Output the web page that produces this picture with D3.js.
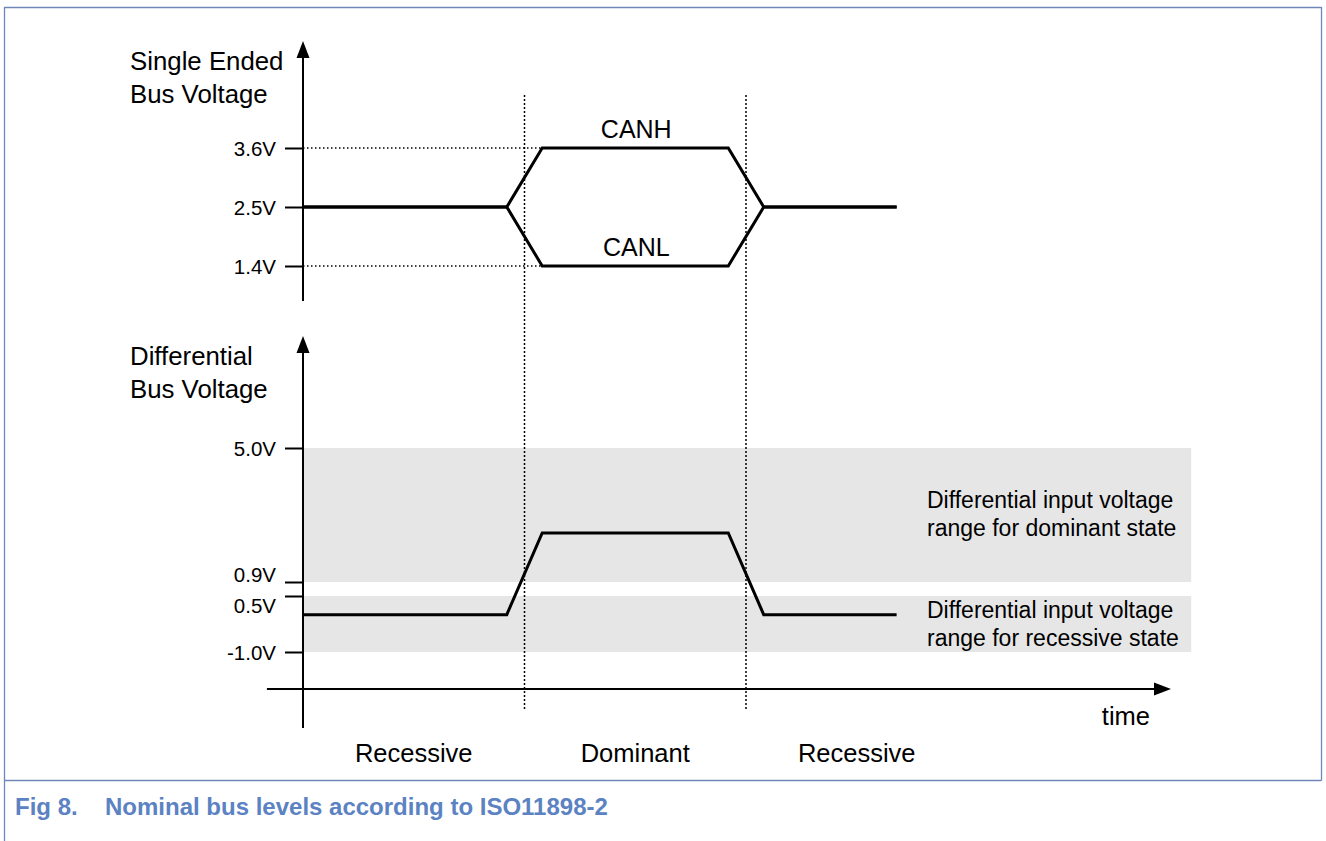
<!DOCTYPE html>
<html>
<head>
<meta charset="utf-8">
<script src="https://cdn.jsdelivr.net/npm/d3@7"></script>
<style>
  html, body { margin: 0; padding: 0; background: #fff; }
  svg { display: block; font-family: "Liberation Sans", Arial, sans-serif; }
</style>
</head>
<body>
<svg id="chart" width="1326" height="841"></svg>
<script>
// ---------- data ----------
const bitBoundaries = [1, 2];
const stateLabels = ["Recessive", "Dominant", "Recessive"];
const stateCenters = [0.5, 1.5, 2.5];

const signalTimes = [0, 0.92, 1.08, 1.92, 2.08, 2.68];
const canhValues = [2.5, 2.5, 3.6, 3.6, 2.5, 2.5];
const canlValues = [2.5, 2.5, 1.4, 1.4, 2.5, 2.5];
const diffValues = [0, 0, 2.2, 2.2, 0, 0];

const seTickValues = [3.6, 2.5, 1.4];
const seTickLabels = ["3.6V", "2.5V", "1.4V"];
const diffTickValues = [5.0, 0.9, 0.5, -1.0];
const diffTickLabels = ["5.0V", "0.9V", "0.5V", "-1.0V"];

const dominantBand = [0.9, 5.0];
const recessiveBand = [-1.0, 0.5];
const dominantText = ["Differential input voltage", "range for dominant state"];
const recessiveText = ["Differential input voltage", "range for recessive state"];

// ---------- scales ----------
const svg = d3.select("#chart");
const x = d3.scaleLinear().domain([0, 1]).range([303, 524.5]);
const ySE = d3.scaleLinear().domain([1.4, 3.6]).range([266, 148]);
const yD = d3.scaleLinear().domain([-1.0, 0.5, 0.9, 2.2, 5.0]).range([652, 596, 582, 533, 448]);

// ---------- frame ----------
const frameColor = "#6f87b8";
svg.append("line").attr("x1", 4.5).attr("x2", 4.5).attr("y1", 7).attr("y2", 841)
  .attr("stroke", frameColor).attr("stroke-width", 1.3);
svg.append("line").attr("x1", 4.5).attr("x2", 1321.5).attr("y1", 7.5).attr("y2", 7.5)
  .attr("stroke", frameColor).attr("stroke-width", 1.3);
svg.append("line").attr("x1", 1321.5).attr("x2", 1321.5).attr("y1", 7).attr("y2", 780.5)
  .attr("stroke", frameColor).attr("stroke-width", 1.3);
svg.append("line").attr("x1", 4.5).attr("x2", 1321.5).attr("y1", 780.5).attr("y2", 780.5)
  .attr("stroke", frameColor).attr("stroke-width", 1.3);

svg.append("text").attr("x", 15).attr("y", 815).attr("fill", "#5b82c2")
  .attr("font-weight", "bold").style("font-size", "24px").text("Fig 8.");
svg.append("text").attr("x", 105).attr("y", 815).attr("fill", "#5b82c2")
  .attr("font-weight", "bold").style("font-size", "24px").text("Nominal bus levels according to ISO11898-2");

// ---------- bands ----------
const bandX0 = x(0), bandX1 = x(4.01);
[dominantBand, recessiveBand].forEach(b => {
  svg.append("rect").attr("x", bandX0).attr("width", bandX1 - bandX0)
    .attr("y", yD(b[1])).attr("height", yD(b[0]) - yD(b[1]))
    .attr("fill", "#e6e6e6");
});

// ---------- dotted guides ----------
bitBoundaries.forEach(t => {
  svg.append("line").attr("x1", x(t)).attr("x2", x(t)).attr("y1", 95).attr("y2", 711)
    .attr("stroke", "#000").attr("stroke-width", 1.5).attr("stroke-dasharray", "2,2");
});
[3.6, 1.4].forEach(v => {
  svg.append("line").attr("x1", x(0)).attr("x2", x(1.08)).attr("y1", ySE(v)).attr("y2", ySE(v))
    .attr("stroke", "#000").attr("stroke-width", 1.4).attr("stroke-dasharray", "1.5,2.5");
});

// ---------- axes ----------
function arrowUp(xp, tipY) {
  svg.append("path").attr("d", `M${xp},${tipY} L${xp - 6.5},${tipY + 17} L${xp + 6.5},${tipY + 17} Z`).attr("fill", "#000");
}
function arrowRight(tipX, yp) {
  svg.append("path").attr("d", `M${tipX},${yp} L${tipX - 17},${yp - 6.5} L${tipX - 17},${yp + 6.5} Z`).attr("fill", "#000");
}

svg.append("line").attr("x1", x(0)).attr("x2", x(0)).attr("y1", 50).attr("y2", 301)
  .attr("stroke", "#000").attr("stroke-width", 2);
arrowUp(x(0), 41);
svg.append("line").attr("x1", x(0)).attr("x2", x(0)).attr("y1", 345).attr("y2", 728)
  .attr("stroke", "#000").attr("stroke-width", 2);
arrowUp(x(0), 336);
svg.append("line").attr("x1", x(-0.163)).attr("x2", 1160).attr("y1", 689).attr("y2", 689)
  .attr("stroke", "#000").attr("stroke-width", 2);
arrowRight(1171, 689);

const axSE = svg.append("g").attr("transform", `translate(${x(0)},0)`)
  .call(d3.axisLeft(ySE).tickValues(seTickValues).tickSize(18).tickPadding(9)
    .tickFormat((d, i) => seTickLabels[i]));
const axD = svg.append("g").attr("transform", `translate(${x(0)},0)`)
  .call(d3.axisLeft(yD).tickValues(diffTickValues).tickSize(18).tickPadding(9)
    .tickFormat((d, i) => diffTickLabels[i]));
[axSE, axD].forEach(g => {
  g.attr("font-size", null).attr("font-family", null);
  g.select(".domain").remove();
  g.selectAll(".tick line").attr("stroke", "#000").attr("stroke-width", 2);
  g.selectAll(".tick text").style("font-size", "20.5px").attr("fill", "#000");
});
axD.selectAll(".tick text").attr("dy", (d) => d === 0.9 ? "-0.02em" : (d === 0.5 ? "0.78em" : "0.36em"));
axSE.selectAll(".tick text").attr("dy", "0.36em");

// axis titles
function twoLine(xp, y1, lines, size, gap) {
  const t = svg.append("text").attr("x", xp).attr("y", y1).style("font-size", size + "px").attr("fill", "#000");
  lines.forEach((l, i) => t.append("tspan").attr("x", xp).attr("dy", i === 0 ? 0 : gap).text(l));
}
twoLine(130, 70, ["Single Ended", "Bus Voltage"], 25.8, 33);
twoLine(130, 365, ["Differential", "Bus Voltage"], 25.8, 33);

svg.append("text").attr("x", 1150).attr("y", 725).attr("text-anchor", "end")
  .style("font-size", "25.5px").attr("fill", "#000").text("time");

// ---------- signals ----------
const pts = (vals, ys) => signalTimes.map((t, i) => [x(t), ys(vals[i])]);
const line = d3.line();
[[canhValues, ySE], [canlValues, ySE], [diffValues, yD]].forEach(([vals, ys]) => {
  svg.append("path").attr("d", line(pts(vals, ys))).attr("fill", "none")
    .attr("stroke", "#000").attr("stroke-width", 3).attr("stroke-linejoin", "miter");
});

svg.append("text").attr("x", x(1.5) + 1).attr("y", 138).attr("text-anchor", "middle")
  .style("font-size", "25px").attr("fill", "#000").text("CANH");
svg.append("text").attr("x", x(1.5) + 1).attr("y", 256).attr("text-anchor", "middle")
  .style("font-size", "25px").attr("fill", "#000").text("CANL");

// band annotations
twoLine(927, 508, dominantText, 23, 27.5);
twoLine(927, 618, recessiveText, 23, 27.5);

// state labels
stateLabels.forEach((s, i) => {
  svg.append("text").attr("x", x(stateCenters[i])).attr("y", 762).attr("text-anchor", "middle")
    .style("font-size", "25.5px").attr("fill", "#000").text(s);
});
</script>
</body>
</html>
